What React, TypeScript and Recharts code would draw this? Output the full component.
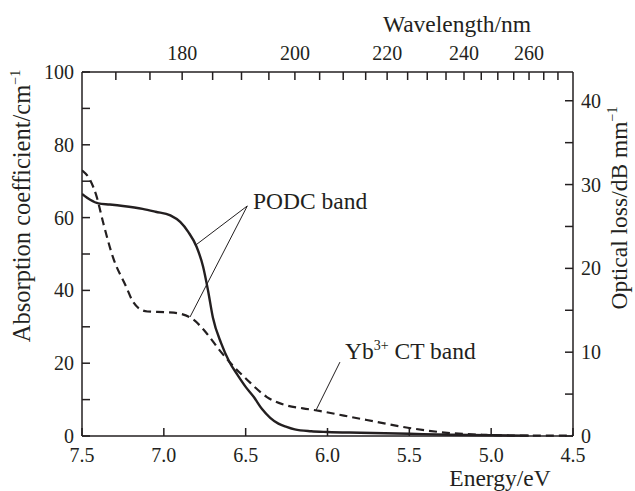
import { LineChart, Line, XAxis, YAxis, ReferenceLine, ReferenceDot, Label } from "recharts";

// plot box (page px) and shared styling
const PL = 82;
const PR = 573;
const PT = 72;
const PB = 436;
const INK = "#231f20";
const FONT = "'Liberation Serif', Tinos, 'DejaVu Serif', 'Times New Roman', serif";

const energyTicks = [7.5, 7.0, 6.5, 6.0, 5.5, 5.0, 4.5];
const wavelengthTicks = [170, 175, 180, 185, 190, 195, 200, 205, 210, 215, 220, 225, 230, 235, 240, 245, 250, 255, 260, 265, 270];
const wavelengthLabels = [180, 200, 220, 240, 260];
const absorptionTicks = [0, 10, 20, 30, 40, 50, 60, 70, 80, 90, 100];
const absorptionLabels = [0, 20, 40, 60, 80, 100];
const lossTicks = [0, 5, 10, 15, 20, 25, 30, 35, 40];
const lossLabels = [0, 10, 20, 30, 40];

// PODC band (solid), absorption in cm^-1
const podcEnergy = [7.5, 7.45, 7.4, 7.33, 7.25, 7.13, 7.05, 6.96, 6.9, 6.85, 6.8, 6.76, 6.73, 6.7, 6.65, 6.6, 6.55, 6.5, 6.45, 6.4, 6.35, 6.3, 6.25, 6.2, 6.1, 6.0, 5.8, 5.5, 5.25, 5.0, 4.77];
const podcAbs = [66.5, 64.9, 63.9, 63.6, 63.2, 62.4, 61.6, 60.6, 58.8, 56.0, 52.0, 46.5, 40.0, 32.5, 25.5, 20.4, 16.8, 13.5, 10.7, 7.4, 5.0, 3.4, 2.5, 1.8, 1.3, 1.1, 0.9, 0.6, 0.35, 0.2, 0.1];

// Yb3+ CT band (dashed)
const ybEnergy = [7.5, 7.45, 7.41, 7.37, 7.31, 7.23, 7.19, 7.15, 7.1, 6.98, 6.9, 6.82, 6.74, 6.66, 6.6, 6.49, 6.37, 6.25, 6.15, 6.05, 5.9, 5.76, 5.5, 5.25, 5.03, 4.8, 4.5];
const ybAbs = [73.0, 70.3, 65.7, 58.5, 49.0, 41.0, 37.0, 35.0, 34.2, 34.0, 33.6, 32.0, 28.3, 23.6, 20.4, 15.4, 10.7, 8.4, 7.6, 6.9, 5.6, 4.4, 2.2, 0.8, 0.3, 0.1, 0.1];

const podcData = podcEnergy.map((e, i) => ({ e, v: podcAbs[i] }));
const ybData = ybEnergy.map((e, i) => ({ e, v: ybAbs[i] }));
const wavelengthEnergy = wavelengthTicks.map((w) => 1239.84 / w);

const tickTxt = { fill: INK, fontFamily: FONT, fontSize: 20 };
const titleTxt = { fill: INK, fontFamily: FONT, fontSize: 23.5 };

function BottomTick({ x, payload }: any) {
  return (
    <g>
      <line x1={x} x2={x} y1={PB} y2={PB - 8} stroke={INK} strokeWidth={1.5} />
      <text x={x} y={PB + 26} textAnchor="middle" {...tickTxt}>{payload.value.toFixed(1)}</text>
    </g>
  );
}

function TopTick({ x, payload }: any) {
  const w = Math.round(1239.84 / payload.value);
  if (!wavelengthLabels.includes(w)) return <g />;
  return <text x={x} y={PT - 12} textAnchor="middle" {...tickTxt}>{w}</text>;
}

function LeftTick({ y, payload }: any) {
  return (
    <g>
      <line x1={PL} x2={PL + 8} y1={y} y2={y} stroke={INK} strokeWidth={1.5} />
      {absorptionLabels.includes(payload.value) && (
        <text x={PL - 8} y={y + 7} textAnchor="end" {...tickTxt}>{payload.value}</text>
      )}
    </g>
  );
}

function RightTick({ y, payload }: any) {
  return (
    <g>
      <line x1={PR} x2={PR - 8} y1={y} y2={y} stroke={INK} strokeWidth={1.5} />
      {lossLabels.includes(payload.value) && (
        <text x={PR + 8} y={y + 7} textAnchor="start" {...tickTxt}>{payload.value}</text>
      )}
    </g>
  );
}

export default function App() {
  return (
    <div style={{ position: "absolute", left: 0, top: 0, background: "#fff", fontFamily: FONT }}>
      <LineChart width={635} height={491} margin={{ top: 0, right: 0, bottom: 0, left: 0 }}>
        <XAxis xAxisId="e" dataKey="e" type="number" domain={[4.5, 7.5]} reversed ticks={energyTicks}
          interval={0} height={491 - PB} tickLine={false} axisLine={{ stroke: INK, strokeWidth: 1.5 }}
          tick={(p: any) => <BottomTick {...p} />} allowDataOverflow>
          <Label content={() => <text x={500} y={486} textAnchor="middle" {...titleTxt}>Energy/eV</text>} />
        </XAxis>
        <XAxis xAxisId="w" dataKey="e" orientation="top" type="number" domain={[4.5, 7.5]} reversed ticks={wavelengthEnergy}
          interval={0} height={PT} tickLine={false} axisLine={{ stroke: INK, strokeWidth: 1.5 }}
          tick={(p: any) => <TopTick {...p} />} allowDataOverflow>
          <Label content={() => <text x={457} y={32} textAnchor="middle" {...titleTxt}>Wavelength/nm</text>} />
        </XAxis>
        <YAxis yAxisId="a" type="number" domain={[0, 100]} ticks={absorptionTicks} interval={0} width={PL}
          tickLine={false} axisLine={{ stroke: INK, strokeWidth: 1.5 }} tick={(p: any) => <LeftTick {...p} />}>
          <Label content={() => (
            <text x={30} y={206} textAnchor="middle" transform="rotate(-90 30 206)" {...titleTxt} fontSize={24.5}>
              Absorption coefficient/cm<tspan dy={-10} fontSize={14}>−1</tspan>
            </text>
          )} />
        </YAxis>
        <YAxis yAxisId="l" orientation="right" type="number" domain={[0, 43.43]} ticks={lossTicks} interval={0}
          width={635 - PR} tickLine={false} axisLine={{ stroke: INK, strokeWidth: 1.5 }}
          tick={(p: any) => <RightTick {...p} />} allowDataOverflow>
          <Label content={() => (
            <text x={627} y={208} textAnchor="middle" transform="rotate(-90 627 208)" {...titleTxt}>
              Optical loss/dB mm<tspan dy={-10} fontSize={14}>−1</tspan>
            </text>
          )} />
        </YAxis>

        {/* hidden series so the top axis has data of its own */}
        <Line xAxisId="w" yAxisId="a" data={podcData} dataKey="v" stroke="none" dot={false} isAnimationActive={false} />

        {/* inward ticks of the wavelength axis, drawn through the energy scale */}
        {wavelengthEnergy.map((e) => (
          <ReferenceLine key={e} xAxisId="e" yAxisId="a" segment={[{ x: e, y: 100 }, { x: e, y: 97.8 }]}
            stroke={INK} strokeWidth={1.5} ifOverflow="visible" />
        ))}

        <Line xAxisId="e" yAxisId="a" data={ybData} dataKey="v" type="monotone" stroke={INK} strokeWidth={2.2}
          strokeDasharray="8 5" dot={false} isAnimationActive={false} />
        <Line xAxisId="e" yAxisId="a" data={podcData} dataKey="v" type="monotone" stroke={INK} strokeWidth={2.4}
          dot={false} isAnimationActive={false} />

        <ReferenceLine xAxisId="e" yAxisId="a" segment={[{ x: 6.49, y: 63.2 }, { x: 6.804, y: 52.5 }]} stroke={INK} strokeWidth={1} />
        <ReferenceLine xAxisId="e" yAxisId="a" segment={[{ x: 6.49, y: 63.2 }, { x: 6.84, y: 32.7 }]} stroke={INK} strokeWidth={1} />
        <ReferenceLine xAxisId="e" yAxisId="a" segment={[{ x: 5.924, y: 20.3 }, { x: 6.07, y: 7.1 }]} stroke={INK} strokeWidth={1} />

        <ReferenceDot xAxisId="e" yAxisId="a" x={6.455} y={64.3} r={0}
          shape={(p: any) => <text x={p.cx} y={p.cy + 7} {...titleTxt}>PODC band</text>} />
        <ReferenceDot xAxisId="e" yAxisId="a" x={5.893} y={23.1} r={0}
          shape={(p: any) => (
            <text x={p.cx} y={p.cy + 7} {...titleTxt}>
              Yb<tspan dy={-9} fontSize={14}>3+</tspan><tspan dy={9}> CT band</tspan>
            </text>
          )} />
      </LineChart>
    </div>
  );
}
